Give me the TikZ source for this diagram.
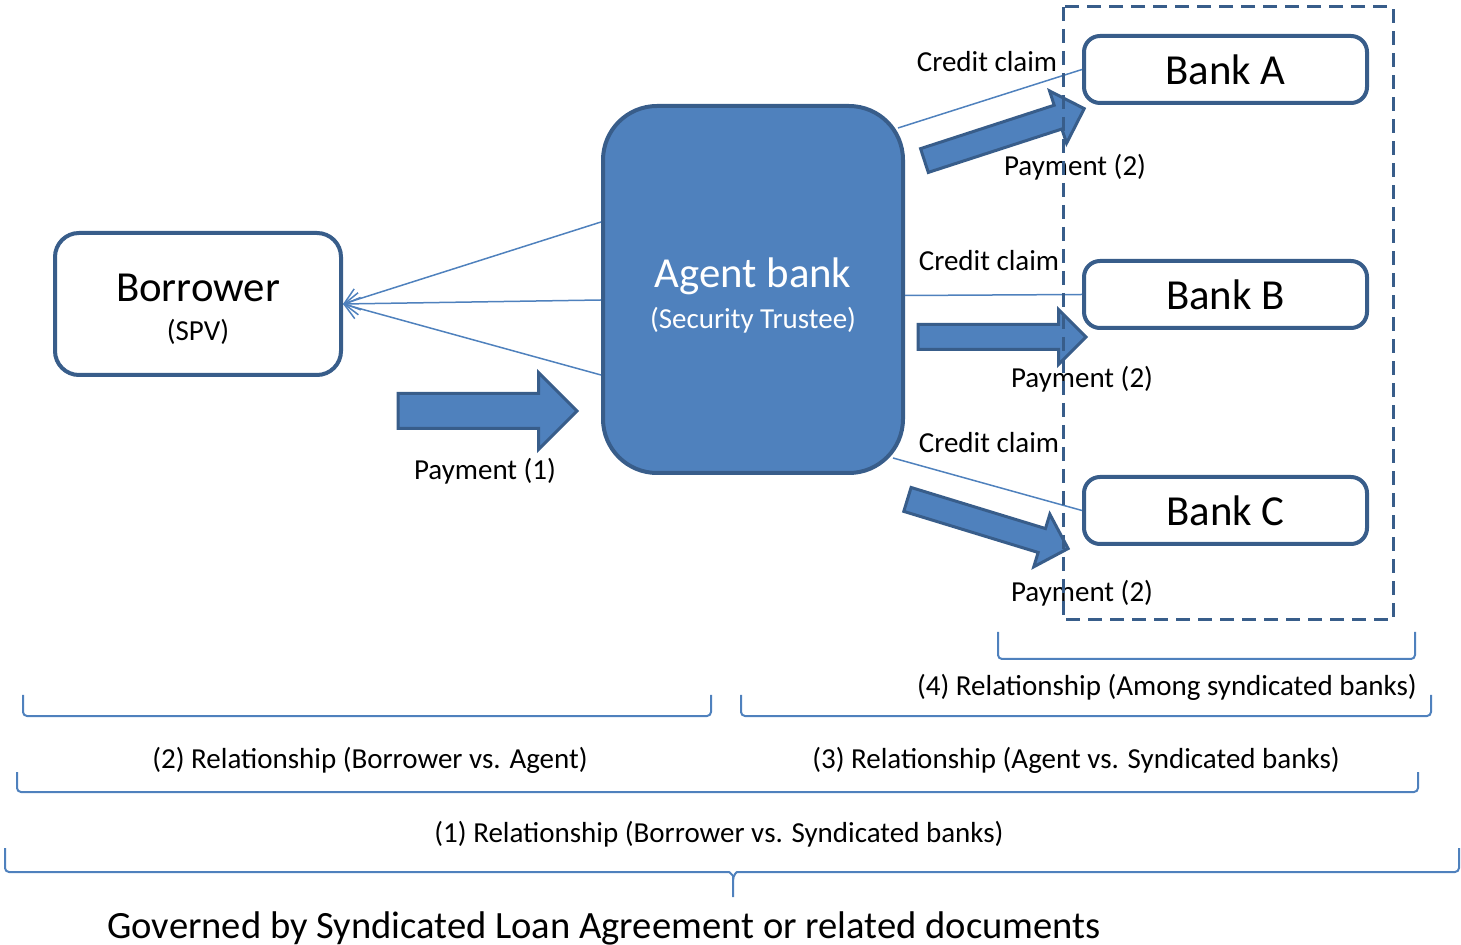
\documentclass[tikz,border=0pt]{standalone}
\usepackage{fontspec}
\setmainfont{Carlito}
\usepackage{tikz}
\usetikzlibrary{shapes.arrows, arrows.meta}
\usepackage{xcolor}

\definecolor{fillblue}{RGB}{79,129,189}
\definecolor{edgeblue}{RGB}{56,93,138}

\tikzset{
    party/.style={draw=edgeblue, line width=2pt, align=center, inner sep=0pt},
    bank/.style={party, rounded corners=8pt, minimum width=141.5pt, minimum height=33.5pt, font=\fontsize{21.4}{24}\selectfont},
    thinline/.style={draw=fillblue, line width=0.75pt},
    pay/.style={single arrow, draw=edgeblue, fill=fillblue, line width=1.5pt, inner xsep=0pt, inner ysep=5.5pt, single arrow head extend=7.5pt, minimum height=84pt, anchor=tail},
    lbl/.style={font=\fontsize{14.5}{17}\selectfont, inner sep=0pt},
    brkt/.style={draw=fillblue, line width=1pt, rounded corners=2pt}
}

\begin{document}
\begin{tikzpicture}[x=0.5pt, y=-0.5pt]
    \useasboundingbox (0,0) rectangle (1461,945);

    % Draw the borrower and the agent
    \node[party, rounded corners=12pt, minimum width=143pt, minimum height=71pt] (Borrower) at (198,304)
        {{\fontsize{21.4}{24}\selectfont\rule{0pt}{19pt}Borrower}\\[7.5pt]{\fontsize{14.5}{17}\selectfont (SPV)}};
    \node[party, fill=fillblue, rounded corners=27pt, minimum width=150pt, minimum height=183.5pt, text=white] (Agent) at (753,289.5)
        {{\fontsize{21.4}{24}\selectfont\rule{0pt}{21pt}Agent bank}\\[5pt]{\fontsize{14.5}{17}\selectfont (Security Trustee)}};

    % The syndicated banks
    \foreach \n/\y in {A/69.5, B/294.5, C/510.5}
        \node[bank] (Bank\n) at (1225.5,\y) {Bank \n};

    % Lines from the agent back to the borrower
    \foreach \y in {222, 300, 375}
        \draw[thinline, -{Straight Barb[length=7pt, width=11pt]}] (Agent.west |- 0,\y) -- (Borrower.east);

    % Credit claims
    \draw[thinline] ([xshift=-3.5pt, yshift=-12pt]Agent.north east) -- (BankA.west);
    \draw[thinline] ([yshift=-3pt]Agent.east) -- (BankB.west);
    \draw[thinline] ([xshift=-6pt, yshift=8.5pt]Agent.south east) -- (BankC.west);
    \node[lbl] (claimA) at (987,62) {Credit claim};
    \node[lbl] (claimB) at (989,261) {Credit claim};
    \node[lbl] (claimC) at (989,443) {Credit claim};

    % Payments
    \node[pay, inner ysep=8pt, single arrow head extend=10.5pt, minimum height=89.5pt] (pay1) at (396.5,411) {};
    \node[lbl] (pay1lbl) at (485,471) {Payment (1)};
    \node[pay, rotate=18] (payA) at (923,161) {};
    \node[pay] (payB) at (916.5,337) {};
    \node[pay, rotate=-17] (payC) at (906,499) {};
    \node[lbl] (payAlbl) at (1075,167) {Payment (2)};
    \node[lbl] (payBlbl) at (1082,379) {Payment (2)};
    \node[lbl] (payClbl) at (1082,593) {Payment (2)};

    % Frame round the syndicated banks
    \draw[edgeblue, line width=1.5pt, dash pattern=on 7pt off 4pt] (1063,7) rectangle (1393,620);

    % Relationships
    \draw[brkt] (998,632) -- (998,659) -- (1415,659) -- (1415,632);
    \node[lbl] (rel4) at (1167,687) {(4) Relationship (Among syndicated banks)};
    \draw[brkt] (23,695) -- (23,716) -- (711,716) -- (711,695);
    \draw[brkt] (741,695) -- (741,716) -- (1431,716) -- (1431,695);
    \node[lbl] (rel2) at (370,760) {(2) Relationship (Borrower vs. Agent)};
    \node[lbl] (rel3) at (1076,760) {(3) Relationship (Agent vs. Syndicated banks)};
    \draw[brkt] (17,772) -- (17,792) -- (1418,792) -- (1418,772);
    \node[lbl] (rel1) at (719,834) {(1) Relationship (Borrower vs. Syndicated banks)};

    % Brace over everything
    \draw[brkt] (5,848) -- (5,872) -- (725,872) to[out=0, in=90] (733,880) -- (733,897);
    \draw[brkt] (1459,848) -- (1459,872) -- (741,872) to[out=180, in=90] (733,880);
    \node[lbl, anchor=west, font=\fontsize{19.3}{22}\selectfont] (governed) at (107,928)
        {Governed by Syndicated Loan Agreement or related documents};
\end{tikzpicture}
\end{document}
